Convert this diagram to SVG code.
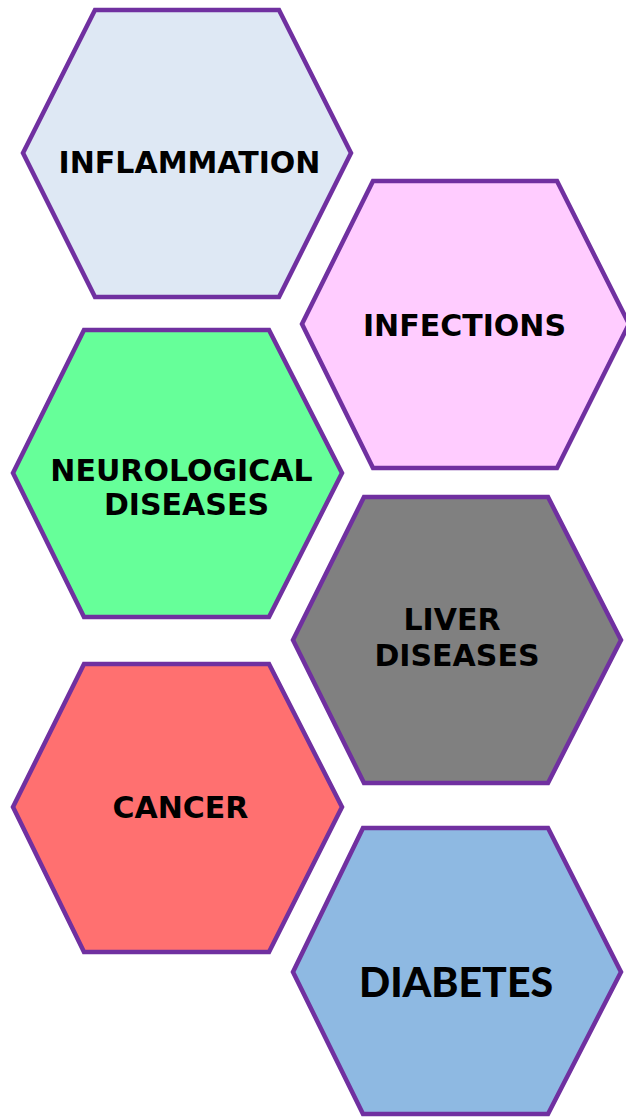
<svg xmlns="http://www.w3.org/2000/svg" width="626" height="1117" viewBox="0 0 626 1117">
  <style>
    .hex { stroke: #7030a0; stroke-width: 4.5; stroke-linejoin: miter; }
    .lbl { font-family: "DejaVu Sans", Verdana, sans-serif; font-weight: bold; font-size: 30px; fill: #000; text-anchor: middle; }
    .big { font-family: Lato, "Open Sans", sans-serif; font-weight: 900; font-size: 41px; fill: #000; text-anchor: middle; }
  </style>
  <rect width="626" height="1117" fill="#ffffff"/>

  <g id="inflammation">
    <polygon class="hex" fill="#dee8f4" points="95,10 279,10 351,153 279,297 95,297 23,153"/>
    <text class="lbl" x="189.5" y="173">INFLAMMATION</text>
  </g>

  <g id="infections">
    <polygon class="hex" fill="#ffccff" points="373,181 557,181 629,324 557,468 373,468 302,324"/>
    <text class="lbl" x="464.5" y="336">INFECTIONS</text>
  </g>

  <g id="neurological">
    <polygon class="hex" fill="#66ff99" points="84,330 269,330 342,473 269,617 84,617 13,473"/>
    <text class="lbl" x="181.5" y="481">NEUROLOGICAL</text>
    <text class="lbl" x="186.5" y="515">DISEASES</text>
  </g>

  <g id="liver">
    <polygon class="hex" fill="#808080" points="364,497 548,497 621,640 548,783 364,783 293,640"/>
    <text class="lbl" x="452" y="630">LIVER</text>
    <text class="lbl" x="457" y="666">DISEASES</text>
  </g>

  <g id="cancer">
    <polygon class="hex" fill="#ff7070" points="84,664 269,664 342,807 269,952 84,952 13,807"/>
    <text class="lbl" x="180.5" y="818">CANCER</text>
  </g>

  <g id="diabetes">
    <polygon class="hex" fill="#8eb9e2" points="363,828 548,828 621,972 548,1114 363,1114 293,972"/>
    <text class="big" x="456" y="997">DIABETES</text>
  </g>

  <g id="connectors"/>
</svg>
